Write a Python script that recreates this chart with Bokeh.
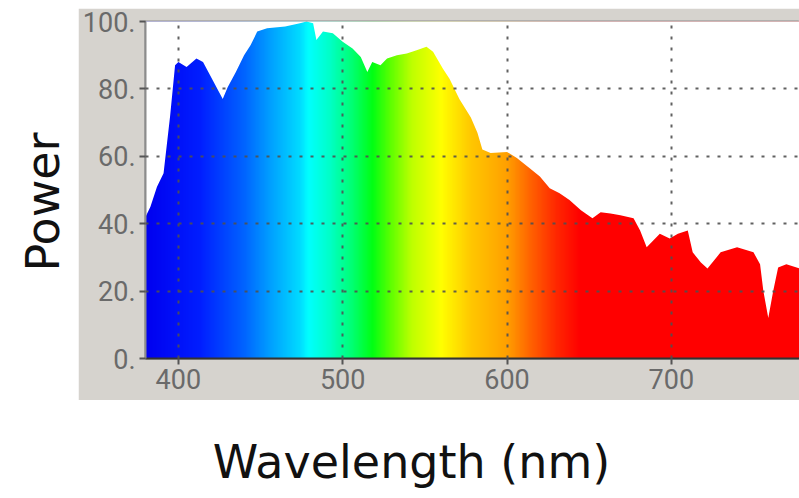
import numpy as np
from bokeh.plotting import figure
from bokeh.models import Range1d, FixedTicker, Spacer
from bokeh.layouts import column, row
from bokeh.core.properties import value
from bokeh.embed import file_html
from bokeh.resources import INLINE

# ---- data ----
wavelength = [380, 383, 387, 391, 395, 398, 400, 405, 411, 415, 421, 427, 430, 435,
              440, 444, 448, 454, 465, 474, 478, 482, 484, 488, 494, 500, 506, 511,
              515, 518, 523, 527, 533, 539, 545, 551, 555, 561, 565, 571, 578, 582,
              585, 590, 600, 606, 614, 620, 626, 632, 638, 645, 652, 657, 663, 669,
              677, 681, 685, 693, 699, 704, 710, 713, 718, 722, 730, 740, 750, 754,
              756, 759, 762, 765, 770, 778]
power = [42, 45, 51, 55, 72, 87, 88, 86.5, 89, 88, 82.5, 77, 80.5, 85,
         90, 93, 97, 98, 98.5, 99.5, 100, 99.5, 94.5, 97, 96.5, 94, 92, 89.5,
         85, 88, 87, 89, 90, 90.5, 91.5, 92.5, 91, 86, 83, 77, 71.5, 67,
         62, 61, 61.3, 59.5, 56.4, 54, 50.5, 49, 47, 44, 41.6, 43.4, 43, 42.5,
         41.6, 38, 33, 37, 35.6, 37, 38, 31.5, 28.5, 26.7, 31.5, 33, 31.5, 28,
         20, 12, 20, 27, 28, 26.7]
x_ticks = [400, 500, 600, 700]
y_ticks = [0, 20, 40, 60, 80, 100]
y_tick_labels = ["0.", "20.", "40.", "60.", "80.", "100."]
x_title = "Wavelength (nm)"
y_title = "Power"

# ---- style: spectral colour gradient stops ----
GRAD_WL = [380, 413, 440, 456, 474, 479, 492, 505, 518, 530, 542, 560, 578, 600, 614, 630, 645, 780]
GRAD_RGB = [(0, 0, 240), (0, 30, 255), (0, 100, 255), (0, 160, 255), (0, 220, 255),
            (0, 255, 255), (0, 255, 200), (0, 255, 120), (0, 255, 20), (100, 255, 0),
            (190, 255, 0), (255, 255, 0), (255, 200, 0), (255, 160, 0), (255, 100, 0),
            (255, 40, 0), (255, 0, 0), (255, 0, 0)]
GRAY = "#d6d3ce"
TITLE_FONT = "DejaVu Sans"

x0, x1 = wavelength[0], wavelength[-1]
ncol = 800
cols = np.linspace(x0, x1, ncol)
rgba = np.zeros((1, ncol, 4), dtype=np.uint8)
for ch in range(3):
    rgba[0, :, ch] = np.interp(cols, GRAD_WL, [c[ch] for c in GRAD_RGB]).astype(np.uint8)
rgba[0, :, 3] = 255
img = rgba.view(dtype=np.uint32).reshape((1, ncol))

# ---- main chart (the grey panel) ----
p = figure(width=721, height=392, output_backend="svg", toolbar_location=None,
           x_range=Range1d(x0, x1), y_range=Range1d(0, 100),
           min_border_left=67, min_border_right=0, min_border_top=13, min_border_bottom=42)
p.background_fill_color = "white"
p.border_fill_color = GRAY
p.outline_line_color = "#8c8c8c"
p.outline_line_width = 2

p.image_rgba(image=[img], x=x0, y=0, dw=x1 - x0, dh=100)
p.varea(x=wavelength, y1=power, y2=[100.5] * len(power), fill_color="white")

p.xaxis.ticker = FixedTicker(ticks=x_ticks)
p.yaxis.ticker = FixedTicker(ticks=y_ticks)
p.yaxis.major_label_overrides = {t: l for t, l in zip(y_ticks, y_tick_labels)}
for ax in (p.xaxis[0], p.yaxis[0]):
    ax.minor_tick_line_color = None
    ax.major_label_text_font = "Roboto"
    ax.major_label_text_font_size = "27px"
    ax.major_label_text_color = "#6a6a6a"
    ax.major_tick_line_color = "#555555"
    ax.major_tick_line_width = 2

p.xaxis.major_tick_in = 0
p.xaxis.major_tick_out = 6
p.xaxis.major_label_standoff = 4
p.xaxis.axis_line_color = "#333333"
p.xaxis.axis_line_width = 2
p.yaxis.major_tick_in = 0
p.yaxis.major_tick_out = 6
p.yaxis.major_label_standoff = 4
p.yaxis.axis_line_color = "#8c8c8c"
p.yaxis.axis_line_width = 2

for g in (p.xgrid[0], p.ygrid[0]):
    g.grid_line_color = "#505050"
    g.grid_line_width = 2
    g.grid_line_dash = "3 8"
    g.grid_line_alpha = 0.9
    g.level = "annotation"
p.xgrid.ticker = FixedTicker(ticks=x_ticks)
p.ygrid.ticker = FixedTicker(ticks=[20, 40, 60, 80])


def blank(w, h):
    f = figure(width=w, height=h, output_backend="svg", toolbar_location=None,
               x_range=Range1d(0, w), y_range=Range1d(0, h), min_border=0)
    f.axis.visible = False
    f.grid.visible = False
    f.outline_line_color = None
    f.background_fill_color = "white"
    f.border_fill_color = "white"
    return f


# y-axis title (left of the grey panel)
left = blank(78, 392)
left.text(x=[42], y=[182], text=[y_title], angle=np.pi / 2,
          text_font=value(TITLE_FONT), text_font_size="46px", text_color="#111111",
          text_align="center", text_baseline="alphabetic")

# x-axis title (below the grey panel)
bottom = blank(799, 98)
bottom.text(x=[411], y=[37], text=[x_title],
            text_font=value(TITLE_FONT), text_font_size="46px", text_color="#111111",
            text_align="center", text_baseline="alphabetic")

layout = column(Spacer(width=799, height=8), row(left, p), bottom)

open("out.html", "w").write(file_html(layout, INLINE))
